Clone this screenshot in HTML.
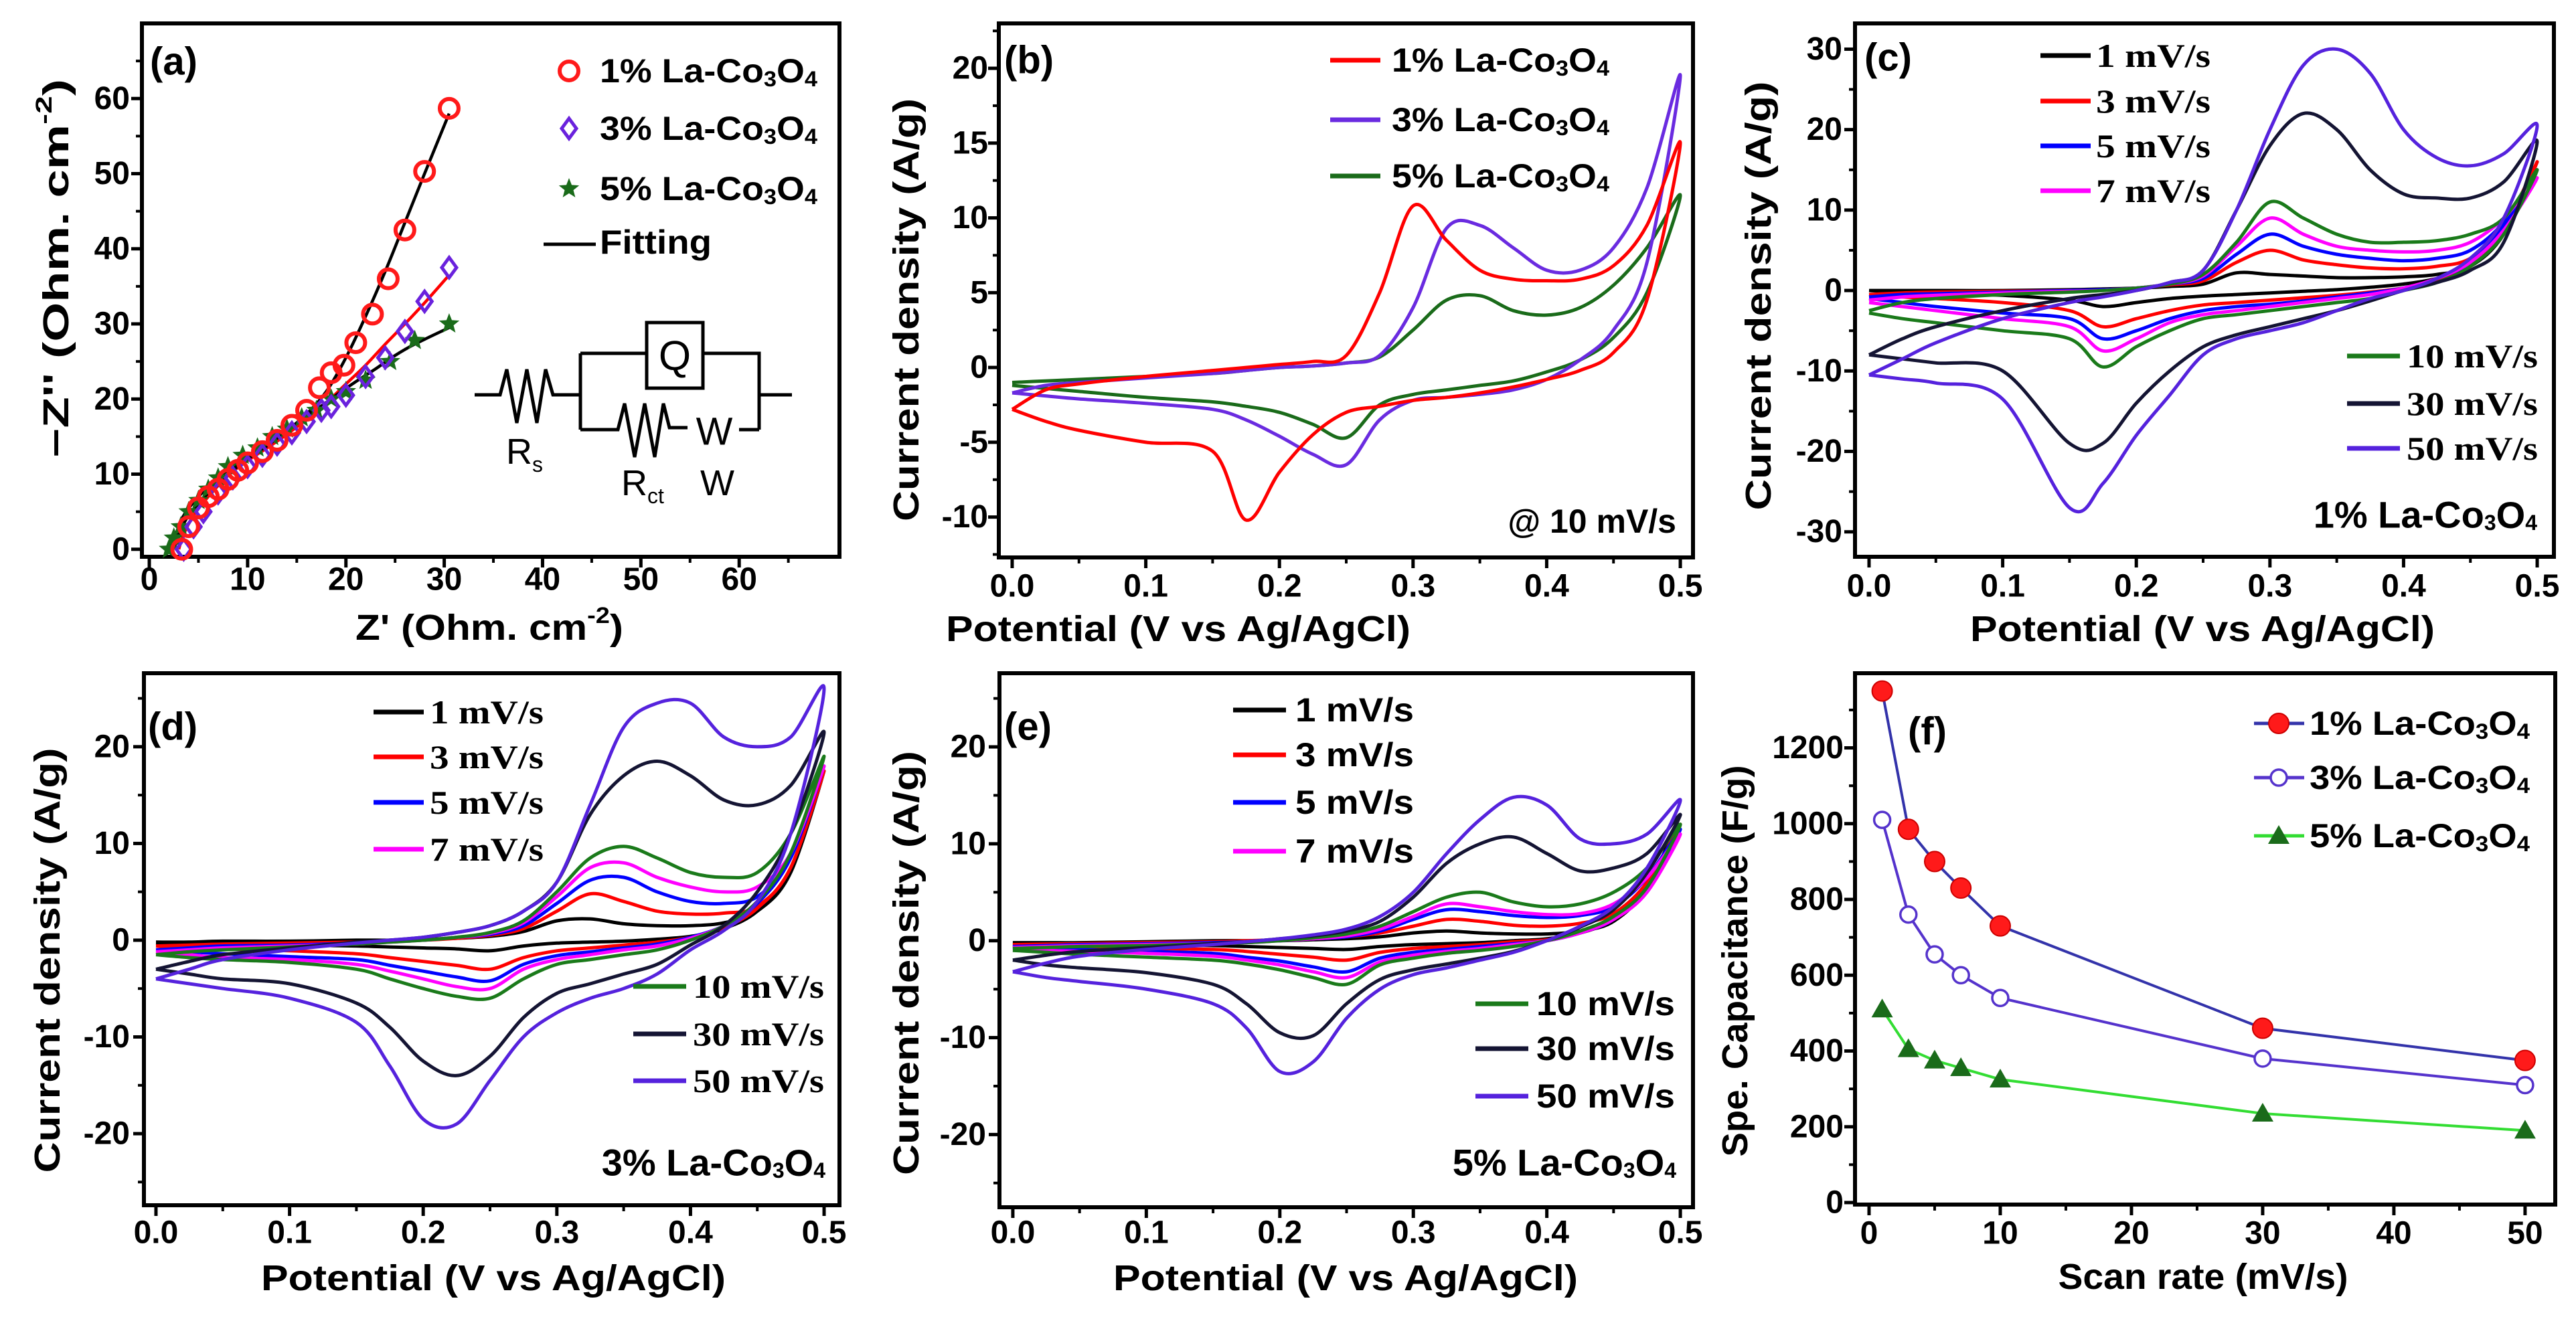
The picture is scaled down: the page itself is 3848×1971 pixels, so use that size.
<!DOCTYPE html>
<html><head><meta charset="utf-8"><style>
html,body{margin:0;padding:0;background:#fff;}
svg{display:block;font-family:"Liberation Sans",Arial,sans-serif;font-weight:bold;}
</style></head><body>
<svg id="fig" width="3848" height="1971" viewBox="0 0 3848 1971" xmlns="http://www.w3.org/2000/svg"></svg>
<script>
// ---------- DATA ----------
// Panel (a) Nyquist
const a1X=[3.3,4,5,6,7,8,9,10,11.5,13,14.5,16,17.3,18.5,19.8,21,22.7,24.3,26,28,30.5];
const a1Y=[0,3,5.5,7,8,9.3,10.5,11.5,13,14.5,16.5,18.5,21.5,23.5,24.5,27.5,31.3,36,42.5,50.3,58.7];
const a3X=[3.5,4.5,5.5,7,8.5,10,11.5,13,14.5,16,17.5,18.5,20,22,24,26,28,30.5];
const a3Y=[0,3,5,7.5,9.5,11,12.5,14,15.5,17,18.5,19,20.5,23,25.5,29,33,37.5];
const a5X=[2,2.5,3.2,4,5,6,7,8,9.5,11,12.5,14,15.5,17,18.5,20,22,24.5,27,30.5];
const a5Y=[0,1.5,3,5,6.5,8,9.5,11,12.5,13.5,15,16,17.5,18.5,20,21,22.5,25,27.8,30];
const fit1X=[2.5,3,4,6,8,10,12,14,16,18,20,22,24,26,28,30.5];
const fit1Y=[0,2,4.5,7.5,10,12,13.8,15.8,18,21,25.5,31,37,43.5,50,58];
const fit3X=[3,3.5,4.5,6,8,10,12,14,16,18,20,22,24,26,28,30.5];
const fit3Y=[0,2,4.5,7,9.8,11.8,13.5,15.3,17.3,19.5,22,24.5,27.3,30,32.8,36.5];
const fit5X=[2.2,2.7,3.5,5,7,9,11,13,15,17,19,21,23,25,27,30.5];
const fit5Y=[0,2,4.5,7,9.5,11.5,13.3,15,16.8,18.6,20.5,22.3,24,25.8,27.3,29.5];
const aXTicks=[0,10,20,30,40,50,60];
const aYTicks=[0,10,20,30,40,50,60];

// CV potential grid (V)
const potentialGrid=[0,0.025,0.05,0.1,0.15,0.175,0.2,0.225,0.25,0.275,0.3,0.325,0.35,0.375,0.4,0.425,0.45,0.475,0.5];
const cvXTicks=[0.0,0.1,0.2,0.3,0.4,0.5];

// Panel (b) @10 mV/s
const b1Up=[-2.8,-1.5,-1.1,-0.6,-0.2,0,0.2,0.4,0.8,5,10.8,8.5,6.5,5.9,5.8,5.9,6.8,9.5,15];
const b1Dn=[-2.8,-3.6,-4.2,-5,-5.6,-10.2,-7,-4.5,-3,-2.6,-2.2,-2,-1.7,-1.3,-0.8,-0.2,1,4.5,15];
const b3Up=[-1.7,-1.2,-1.0,-0.7,-0.4,-0.2,0,0.1,0.3,0.8,4,9.3,9.5,8,6.5,6.5,8,12,19.5];
const b3Dn=[-1.7,-1.9,-2.1,-2.4,-2.8,-3.5,-4.6,-5.8,-6.5,-3.5,-2.2,-2,-1.8,-1.5,-0.8,0.5,2.5,7,19.5];
const b5Up=[-1.0,-0.9,-0.8,-0.6,-0.4,-0.2,0,0.1,0.3,0.7,2.5,4.5,4.8,3.8,3.5,4,5.5,8,11.5];
const b5Dn=[-1.2,-1.4,-1.6,-2.0,-2.3,-2.6,-3,-3.8,-4.7,-2.5,-1.8,-1.5,-1.2,-0.9,-0.3,0.5,2,5,11.5];
const bYTicks=[-10,-5,0,5,10,15,20];

// Panel (c) 1% La-Co3O4
const c1Up=[0,0,0,0,0.1,0.2,0.3,0.5,0.8,2.2,2,1.8,1.6,1.6,1.7,2,3,7,16];
const c1Dn=[0,-0.2,-0.3,-0.6,-1.2,-2,-1.5,-1,-0.7,-0.5,-0.3,-0.1,0.1,0.4,0.8,1.5,3,7,16];
const c3Up=[-0.5,-0.3,-0.2,-0.1,0,0.1,0.3,0.7,1.2,3.5,5,3.8,3.2,2.8,2.7,3,4,8,16];
const c3Dn=[-0.5,-0.8,-1,-1.5,-2.5,-4.5,-3.5,-2.5,-1.8,-1.5,-1.2,-0.9,-0.6,-0.2,0.3,1.2,3,7.5,16];
const c5Up=[-0.8,-0.5,-0.4,-0.2,0,0.1,0.3,0.8,1.5,4.5,7,5.5,4.5,4,3.7,4,5,8.5,15];
const c5Dn=[-1,-1.5,-2,-2.8,-3.5,-6,-5,-3.5,-2.5,-2,-1.7,-1.3,-0.8,-0.3,0.3,1.5,3.5,8,15];
const c7Up=[-1.2,-0.8,-0.6,-0.3,-0.1,0,0.3,0.8,1.8,5.5,9,7,5.5,5,4.8,5,6,9,14];
const c7Dn=[-1.5,-2,-2.5,-3.5,-4.5,-7.5,-6,-4,-3,-2.5,-2,-1.5,-1,-0.5,0.3,1.5,3.5,7.5,14];
const c10Up=[-2.5,-1.5,-1,-0.5,-0.2,0,0.3,0.8,2,6,11,9,7,6,6,6.2,7,9,15];
const c10Dn=[-2.8,-3.5,-4,-5,-6,-9.5,-7,-5,-3.5,-3,-2.5,-2,-1.5,-1,0,1,3,7,15];
const c30Up=[-8,-6,-4.5,-2.5,-1,-0.5,0,1,2.5,10,18,22,20,15,12,11.5,11.5,13.5,18.5];
const c30Dn=[-8,-8.5,-9,-10,-19,-19,-14,-10,-7,-5.5,-4.5,-3.5,-2.5,-1.3,0,1,2.5,6,18.5];
const c50Up=[-10.5,-8.5,-6.5,-3.5,-1.5,-0.8,0,1,2.5,10,20,28,30,27,20,16.5,15.5,17,20.5];
const c50Dn=[-10.5,-11,-11.5,-13.5,-27,-24,-18,-13,-8,-6,-5,-4,-2.5,-1,0,1.5,4,9,20.5];
const cYTicks=[-30,-20,-10,0,10,20,30];

// Panel (d) 3% La-Co3O4
const d1Up=[-0.2,-0.2,-0.1,-0.1,0,0,0.1,0.2,0.4,0.9,2,2.2,1.7,1.5,1.5,1.8,3,7,17.5];
const d1Dn=[-0.3,-0.4,-0.4,-0.5,-0.6,-0.7,-0.8,-0.9,-1.1,-0.6,-0.3,-0.2,-0.1,0.1,0.4,1.2,3,7,17.5];
const d3Up=[-0.6,-0.5,-0.4,-0.3,-0.2,-0.1,0,0.2,0.5,1.2,3,4.8,4,3,2.7,2.8,3.5,7.5,17.5];
const d3Dn=[-0.6,-0.8,-0.9,-1.1,-1.4,-1.8,-2.2,-2.6,-3,-1.8,-1.1,-0.8,-0.5,-0.2,0.3,1.3,3.3,7.5,17.5];
const d5Up=[-1,-0.8,-0.6,-0.5,-0.3,-0.1,0,0.3,0.6,1.5,3.8,6.2,6.5,5,4,3.8,4.5,8.5,18];
const d5Dn=[-1,-1.2,-1.4,-1.7,-2,-2.6,-3.2,-3.8,-4.2,-2.5,-1.6,-1.2,-0.8,-0.4,0.3,1.5,3.8,8.5,18];
const d7Up=[-1.2,-1,-0.8,-0.6,-0.4,-0.2,0,0.3,0.7,1.8,4.5,7.5,8,6.5,5.5,5,5.5,9,18];
const d7Dn=[-1.2,-1.5,-1.8,-2,-2.5,-3.2,-4,-4.8,-5,-3,-2,-1.5,-1,-0.6,0.2,1.5,4,9,18];
const d10Up=[-1.5,-1.2,-1,-0.7,-0.4,-0.2,0,0.3,0.8,2,5,8.5,9.7,8.5,7,6.5,7,11,19];
const d10Dn=[-1.5,-1.8,-2,-2.3,-3,-4,-5,-5.8,-6,-4,-2.5,-2,-1.5,-1,0,1.5,4,9,19];
const d30Up=[-3,-2.2,-1.5,-0.8,-0.2,0,0.3,0.8,1.5,3,6,13,17,18.5,17,14.5,14,16,21.5];
const d30Dn=[-3,-3.5,-4,-4.5,-6.5,-9,-12.5,-14,-12,-8,-5.5,-4.5,-3.5,-2.5,-0.5,1.5,5,11,21.5];
const d50Up=[-4,-3,-2,-1,-0.3,0,0.3,0.8,1.5,3,6,14,22,24.5,24.5,21,20,21,26];
const d50Dn=[-4,-4.5,-5,-6,-8.5,-13,-18.5,-19,-14.5,-10,-7.5,-6,-5,-3.5,-1,1,4,11,26];
const dYTicks=[-20,-10,0,10,20];

// Panel (e) 5% La-Co3O4
const e1Up=[-0.2,-0.2,-0.2,-0.1,0,0,0,0.1,0.2,0.4,0.8,1,0.8,0.7,0.7,1,2,5.5,13];
const e1Dn=[-0.3,-0.3,-0.3,-0.4,-0.5,-0.6,-0.7,-0.8,-0.9,-0.6,-0.4,-0.3,-0.2,0,0.2,0.8,2.2,5.5,13];
const e3Up=[-0.4,-0.35,-0.3,-0.2,-0.1,0,0.1,0.2,0.4,0.8,1.5,2.2,2,1.6,1.5,1.8,2.8,6,12];
const e3Dn=[-0.5,-0.6,-0.7,-0.8,-0.9,-1.1,-1.4,-1.7,-2,-1.2,-0.8,-0.6,-0.4,-0.1,0.1,0.8,2.2,5.5,12];
const e5Up=[-0.6,-0.5,-0.4,-0.3,-0.2,-0.1,0,0.2,0.4,1,2.2,3.2,3,2.6,2.4,2.6,3.5,6.5,11.5];
const e5Dn=[-0.7,-0.8,-0.9,-1.1,-1.3,-1.7,-2.1,-2.7,-3.2,-1.8,-1.2,-0.9,-0.6,-0.3,0,0.8,2.2,5.5,11.5];
const e7Up=[-0.7,-0.6,-0.5,-0.4,-0.3,-0.2,0,0.2,0.5,1.2,2.5,3.8,3.5,3,2.7,2.8,3.8,6.5,11];
const e7Dn=[-0.8,-1,-1.1,-1.3,-1.6,-2,-2.5,-3.2,-3.8,-2.2,-1.5,-1.1,-0.8,-0.4,0,0.8,2.2,5,11];
const e10Up=[-0.8,-0.7,-0.6,-0.5,-0.3,-0.2,0,0.3,0.7,1.5,3,4.5,5,4,3.5,3.8,5,7.5,12];
const e10Dn=[-1,-1.2,-1.4,-1.7,-2,-2.4,-3,-3.8,-4.5,-2.5,-1.8,-1.3,-1,-0.6,0,1,2.5,5.5,12];
const e30Up=[-2,-1.5,-1.1,-0.7,-0.3,-0.1,0.2,0.5,1,2,4.5,8,10,10.7,9,7.2,7.5,9,13];
const e30Dn=[-2,-2.5,-2.8,-3.3,-4.5,-6.5,-9.5,-9.8,-6.5,-4,-3,-2.4,-1.8,-1.1,0,1.4,3.2,7,13];
const e50Up=[-3.2,-2.3,-1.6,-0.9,-0.4,-0.1,0.2,0.6,1.2,2.5,5,9,12.5,14.8,14,10.5,10,11,14.5];
const e50Dn=[-3.2,-3.8,-4.2,-5,-6.5,-9,-13.5,-12.5,-8,-5,-3.5,-2.8,-2,-1.2,0,1.5,3.5,7.5,14.5];
const eYTicks=[-20,-10,0,10,20];

// Panel (f) specific capacitance
const scanRates=[1,3,5,7,10,30,50];
const cap1=[1350,985,900,830,730,460,375];
const cap3=[1010,760,655,600,540,380,310];
const cap5=[510,405,375,355,325,235,190];
const fXTicks=[0,10,20,30,40,50];
const fYTicks=[0,200,400,600,800,1000,1200];

const rateLabels=['1 mV/s','3 mV/s','5 mV/s','7 mV/s','10 mV/s','30 mV/s','50 mV/s'];

// ---------- DRAWING ----------
const NS='http://www.w3.org/2000/svg';
const svg=document.getElementById('fig');
function mk(tag,parent,attrs,name){
  const el=document.createElementNS(NS,tag);
  for(const k in attrs) el.setAttribute(k,attrs[k]);
  
  
  (parent||svg).appendChild(el);
  return el;
}
function splinePath(pts){
  let d='M'+pts[0][0].toFixed(1)+','+pts[0][1].toFixed(1);
  for(let i=0;i<pts.length-1;i++){
    const p0=pts[Math.max(0,i-1)],p1=pts[i],p2=pts[i+1],p3=pts[Math.min(pts.length-1,i+2)];
    const c1x=p1[0]+(p2[0]-p0[0])/6,c1y=p1[1]+(p2[1]-p0[1])/6;
    const c2x=p2[0]-(p3[0]-p1[0])/6,c2y=p2[1]-(p3[1]-p1[1])/6;
    d+=' C'+c1x.toFixed(1)+','+c1y.toFixed(1)+' '+c2x.toFixed(1)+','+c2y.toFixed(1)+' '+p2[0].toFixed(1)+','+p2[1].toFixed(1);
  }
  return d;
}
function makeAxes(g,o){
  const sx=v=>o.L+(v-o.x0)/(o.x1-o.x0)*(o.R-o.L);
  const sy=v=>o.B-(v-o.y0)/(o.y1-o.y0)*(o.B-o.T);
  const ax=mk('g',g,{},'axes');
  for(let v=o.xMinStart;v<=o.xMinEnd+1e-9;v+=o.xMinor){
    mk('line',ax,{x1:sx(v),x2:sx(v),y1:o.B,y2:o.B+9,stroke:'#000','stroke-width':4},'x-minor-tick');
  }
  for(let v=o.yMinStart;v<=o.yMinEnd+1e-9;v+=o.yMinor){
    mk('line',ax,{x1:o.L,x2:o.L-9,y1:sy(v),y2:sy(v),stroke:'#000','stroke-width':4},'y-minor-tick');
  }
  o.xt.forEach(v=>{
    mk('line',ax,{x1:sx(v),x2:sx(v),y1:o.B,y2:o.B+16,stroke:'#000','stroke-width':5},'x-major-tick');
    const t=mk('text',ax,{x:sx(v),y:o.xLabY,'text-anchor':'middle','dominant-baseline':'central','font-size':48},'x-tick-label');
    t.textContent=o.xFmt?o.xFmt(v):String(v);
  });
  o.yt.forEach(v=>{
    mk('line',ax,{x1:o.L,x2:o.L-16,y1:sy(v),y2:sy(v),stroke:'#000','stroke-width':5},'y-major-tick');
    const t=mk('text',ax,{x:o.yLabX,y:sy(v),'text-anchor':'end','dominant-baseline':'central','font-size':48},'y-tick-label');
    t.textContent=String(v);
  });
  mk('rect',ax,{x:o.L,y:o.T,width:o.R-o.L,height:o.B-o.T,fill:'none',stroke:'#000','stroke-width':6},'plot-frame');
  return {sx,sy};
}
function titleText(g,x,y,len,rot,html,name,size){
  const t=mk('text',g,{x:x,y:y,'text-anchor':'middle','dominant-baseline':'central','font-size':size||54,textLength:len,lengthAdjust:'spacingAndGlyphs',transform:rot?('rotate(-90 '+x+' '+y+')'):''},name);
  t.innerHTML=html;
  return t;
}
const CO='La-Co<tspan dy="12" font-size="32">3</tspan><tspan dy="-12">O</tspan><tspan dy="12" font-size="32">4</tspan>';
function legText(g,x,y,html,len,name,size,family){
  const t=mk('text',g,{x:x,y:y,'dominant-baseline':'central','font-size':size||50,textLength:len,lengthAdjust:'spacingAndGlyphs'},name);
  if(family) t.setAttribute('font-family',family);
  t.innerHTML=html;
  return t;
}
function starPath(cx,cy,R){let d='';for(let k=0;k<10;k++){const r=k%2?R*0.43:R,an=-Math.PI/2+k*Math.PI/5;d+=(k?'L':'M')+(cx+r*Math.cos(an)).toFixed(1)+','+(cy+r*Math.sin(an)).toFixed(1);}return d+'Z';}

// ===== Panel (a) =====
(function(){
  const g=mk('g',svg,{},'panel-a');
  const o={L:212,R:1254,T:35,B:832,x0:-0.75,x1:70.2,y0:-1,y1:70,xt:aXTicks,yt:aYTicks,xMinor:5,xMinStart:5,xMinEnd:65,yMinor:5,yMinStart:5,yMinEnd:65,xLabY:866,yLabX:194};
  const {sx,sy}=makeAxes(g,o);
  titleText(g,84,401,566,true,'−Z\'\' (Ohm. cm<tspan dy="-18" font-size="34">-2</tspan><tspan dy="18">)</tspan>','y-axis-title');
  titleText(g,731,938,400,false,'Z\' (Ohm. cm<tspan dy="-18" font-size="34">-2</tspan><tspan dy="18">)</tspan>','x-axis-title');
  mk('text',g,{x:224,y:92,'dominant-baseline':'central','font-size':58},'panel-label').textContent='(a)';
  [[fit3X,fit3Y,'#ff0000'],[fit5X,fit5Y,'#000'],[fit1X,fit1Y,'#000']].forEach(f=>{
    const pts=f[0].map((x,i)=>[sx(x),sy(f[1][i])]);
    mk('path',g,{d:splinePath(pts),fill:'none',stroke:f[2],'stroke-width':4.5},'fitting-line');
  });
  a5X.forEach((x,i)=>{
    mk('path',g,{d:starPath(sx(x),sy(a5Y[i]),16),fill:'#1a6b1a'},'marker-5pct');
  });
  a3X.forEach((x,i)=>{
    const cx=sx(x),cy=sy(a3Y[i]);
    mk('path',g,{d:`M${cx},${cy-15}L${cx+11},${cy}L${cx},${cy+15}L${cx-11},${cy}Z`,fill:'none',stroke:'#6a22dd','stroke-width':5},'marker-3pct');
  });
  a1X.forEach((x,i)=>{
    mk('circle',g,{cx:sx(x),cy:sy(a1Y[i]),r:14,fill:'none',stroke:'#ff1a1a','stroke-width':6},'marker-1pct');
  });
  const lg=mk('g',g,{},'legend');
  mk('circle',lg,{cx:850,cy:106,r:14,fill:'none',stroke:'#ff1a1a','stroke-width':6},'legend-marker-1pct');
  mk('path',lg,{d:'M850,177L861,192L850,207L839,192Z',fill:'none',stroke:'#6a22dd','stroke-width':5},'legend-marker-3pct');
  mk('path',lg,{d:starPath(850,282,16),fill:'#1a6b1a'},'legend-marker-5pct');
  legText(lg,896,106,'1% '+CO,325,'legend-entry');
  legText(lg,896,192,'3% '+CO,325,'legend-entry');
  legText(lg,896,282,'5% '+CO,325,'legend-entry');
  mk('line',lg,{x1:812,x2:890,y1:365,y2:365,stroke:'#000','stroke-width':5},'legend-line-fitting');
  legText(lg,896,362,'Fitting',167,'legend-entry');
  const cg=mk('g',g,{fill:'none',stroke:'#000','stroke-width':5},'equivalent-circuit');
  mk('path',cg,{d:'M709,590L747,590L757,552L772,632L787,552L802,632L815,552L826,590L867,590'},'resistor-rs');
  mk('path',cg,{d:'M867,528L867,642M867,528L966,528M1050,528L1134,528L1134,642M1134,590L1183,590'},'circuit-wires');
  mk('rect',cg,{x:966,y:482,width:84,height:98},'cpe-box');
  mk('path',cg,{d:'M867,642L923,642L933,603L948,683L963,603L978,683L991,603L1000,639L1027,639M1104,642L1134,642'},'resistor-rct');
  const tg=mk('g',g,{'font-size':54,'font-weight':'normal'},'circuit-labels');
  mk('text',tg,{x:1008,y:532,'text-anchor':'middle','dominant-baseline':'central','font-size':62},'cpe-label').textContent='Q';
  mk('text',tg,{x:1067,y:645,'text-anchor':'middle','dominant-baseline':'central','font-size':58},'warburg-symbol').textContent='W';
  mk('text',tg,{x:756,y:693},'rs-label').innerHTML='R<tspan dy="12" font-size="32">s</tspan>';
  mk('text',tg,{x:928,y:740},'rct-label').innerHTML='R<tspan dy="12" font-size="32">ct</tspan>';
  mk('text',tg,{x:1046,y:740},'w-label').textContent='W';
})();

// ===== CV panels =====
function cvPanel(name,o,curves,yTitleX,yTitleY,yLen,xTitleY,xTitleX){
  const g=mk('g',svg,{},name);
  o.x0=o.x0??-0.01;o.xt=cvXTicks;o.xMinor=0.05;o.xMinStart=0.05;o.xMinEnd=0.45;o.xFmt=v=>v.toFixed(1);
  const {sx,sy}=makeAxes(g,o);
  titleText(g,yTitleX,yTitleY,yLen,true,'Current density (A/g)','y-axis-title');
  titleText(g,xTitleX,xTitleY,694,false,'Potential (V vs Ag/AgCl)','x-axis-title');
  curves.forEach(c=>{
    const pts=potentialGrid.map((e,i)=>[sx(e),sy(c[0][i])]).concat(potentialGrid.slice().reverse().slice(1).map((e,i)=>[sx(e),sy(c[1][potentialGrid.length-2-i])]));
    mk('path',g,{d:splinePath(pts),fill:'none',stroke:c[2],'stroke-width':5,'stroke-linejoin':'round'},'cv-curve');
  });
  return g;
}
const rateColors=['#000000','#ff0000','#0000ff','#ff00ff','#1a7a1a','#141433','#5522dd'];

// (b)
(function(){
  const g=cvPanel('panel-b',{L:1492,R:2529,T:35,B:833,x0:-0.01,x1:0.5095,y0:-12.7,y1:23.0,yt:bYTicks,yMinor:2.5,yMinStart:-12.5,yMinEnd:22.5,xLabY:876,yLabX:1476},
    [[b5Up,b5Dn,'#1a6b1a'],[b3Up,b3Dn,'#6a2be0'],[b1Up,b1Dn,'#ff0000']],1354,463,632,940,1760);
  mk('text',g,{x:1500,y:90,'dominant-baseline':'central','font-size':58},'panel-label').textContent='(b)';
  const lg=mk('g',g,{},'legend');
  [['#ff0000','1% ',90],['#6a2be0','3% ',179],['#1a6b1a','5% ',263]].forEach(r=>{
    mk('line',lg,{x1:1987,x2:2062,y1:r[2],y2:r[2],stroke:r[0],'stroke-width':7},'legend-line');
    legText(lg,2079,r[2],r[1]+CO,325,'legend-entry');
  });
  mk('text',g,{x:2504,y:779,'text-anchor':'end','dominant-baseline':'central','font-size':50},'scan-rate-note').textContent='@ 10 mV/s';
})();

function rateLegend(g,lx1,lx2,tx,rows,rowsR,rx1,rx2,rtx,serif,len1,len2){
  const lg=mk('g',g,{},'legend');
  const fam=serif?'"Liberation Serif",serif':null;
  rows.forEach((y,i)=>{
    mk('line',lg,{x1:lx1,x2:lx2,y1:y,y2:y,stroke:rateColors[i],'stroke-width':7},'legend-line');
    legText(lg,tx,y,rateLabels[i],len1,'legend-entry',50,fam);
  });
  rowsR.forEach((y,i)=>{
    mk('line',lg,{x1:rx1,x2:rx2,y1:y,y2:y,stroke:rateColors[i+4],'stroke-width':7},'legend-line');
    legText(lg,rtx,y,rateLabels[i+4],len2,'legend-entry',50,fam);
  });
}

// (c)
(function(){
  const g=cvPanel('panel-c',{L:2771,R:3815,T:35,B:832,x0:-0.0105,x1:0.5125,y0:-33.1,y1:33.2,yt:cYTicks,yMinor:5,yMinStart:-30,yMinEnd:30,xLabY:876,yLabX:2752},
    [[c1Up,c1Dn,rateColors[0]],[c3Up,c3Dn,rateColors[1]],[c5Up,c5Dn,rateColors[2]],[c7Up,c7Dn,rateColors[3]],[c10Up,c10Dn,rateColors[4]],[c30Up,c30Dn,rateColors[5]],[c50Up,c50Dn,rateColors[6]]],2627,442,641,940,3290);
  mk('text',g,{x:2785,y:86,'dominant-baseline':'central','font-size':58},'panel-label').textContent='(c)';
  rateLegend(g,3048,3123,3131,[83,151,218,285],[532,603,670],3506,3585,3595,true,171,196);
  const t=mk('text',g,{x:3790,y:769,'text-anchor':'end','dominant-baseline':'central','font-size':56},'sample-label');
  t.innerHTML='1% '+CO;
})();

// (d)
(function(){
  const g=cvPanel('panel-d',{L:215,R:1254,T:1006,B:1801,x0:-0.009,x1:0.5115,y0:-27.4,y1:27.6,yt:dYTicks,yMinor:5,yMinStart:-25,yMinEnd:25,xLabY:1842,yLabX:194},
    [[d1Up,d1Dn,rateColors[0]],[d3Up,d3Dn,rateColors[1]],[d5Up,d5Dn,rateColors[2]],[d7Up,d7Dn,rateColors[3]],[d10Up,d10Dn,rateColors[4]],[d30Up,d30Dn,rateColors[5]],[d50Up,d50Dn,rateColors[6]]],71,1435,635,1910,737);
  mk('text',g,{x:221,y:1086,'dominant-baseline':'central','font-size':58},'panel-label').textContent='(d)';
  rateLegend(g,558,633,642,[1064,1131,1199,1269],[1474,1545,1615],946,1025,1035,true,170,196);
  const t=mk('text',g,{x:1233,y:1737,'text-anchor':'end','dominant-baseline':'central','font-size':56},'sample-label');
  t.innerHTML='3% '+CO;
})();

// (e)
(function(){
  const g=cvPanel('panel-e',{L:1493,R:2529,T:1006,B:1804,x0:-0.01,x1:0.5095,y0:-27.5,y1:27.6,yt:eYTicks,yMinor:5,yMinStart:-25,yMinEnd:25,xLabY:1842,yLabX:1473},
    [[e1Up,e1Dn,rateColors[0]],[e3Up,e3Dn,rateColors[1]],[e5Up,e5Dn,rateColors[2]],[e7Up,e7Dn,rateColors[3]],[e10Up,e10Dn,rateColors[4]],[e30Up,e30Dn,rateColors[5]],[e50Up,e50Dn,rateColors[6]]],1354,1439,634,1910,2010);
  mk('text',g,{x:1500,y:1086,'dominant-baseline':'central','font-size':58},'panel-label').textContent='(e)';
  rateLegend(g,1842,1921,1935,[1061,1128,1199,1272],[1500,1567,1638],2204,2283,2295,false,177,207);
  const t=mk('text',g,{x:2504,y:1737,'text-anchor':'end','dominant-baseline':'central','font-size':56},'sample-label');
  t.innerHTML='5% '+CO;
})();

// (f)
(function(){
  const g=mk('g',svg,{},'panel-f');
  const o={L:2771,R:3817,T:1006,B:1800,x0:-1.07,x1:52.3,y0:-5.3,y1:1397,xt:fXTicks,yt:fYTicks,xMinor:5,xMinStart:5,xMinEnd:45,yMinor:100,yMinStart:100,yMinEnd:1300,xLabY:1843,yLabX:2754};
  const {sx,sy}=makeAxes(g,o);
  titleText(g,2592,1436,585,true,'Spe. Capacitance (F/g)','y-axis-title');
  titleText(g,3291,1908,433,false,'Scan rate (mV/s)','x-axis-title');
  mk('text',g,{x:2850,y:1093,'dominant-baseline':'central','font-size':58},'panel-label').textContent='(f)';
  function drawMarker(g,kind,x,y){
    if(kind==='red'){mk('circle',g,{cx:x,cy:y,r:15,fill:'#ff1a1a',stroke:'#cc0000','stroke-width':2},'marker-1pct');}
    else if(kind==='open'){mk('circle',g,{cx:x,cy:y,r:12,fill:'#fff',stroke:'#5533cc','stroke-width':3.5},'marker-3pct');}
    else {mk('path',g,{d:`M${x},${y-16}L${x+16},${y+12}L${x-16},${y+12}Z`,fill:'#1a6b1a'},'marker-5pct');}
  }
  const series=[[cap5,'#33dd33','tri'],[cap3,'#5533cc','open'],[cap1,'#3333aa','red']];
  series.forEach(s=>{
    const pts=scanRates.map((x,i)=>[sx(x),sy(s[0][i])]);
    mk('polyline',g,{points:pts.map(p=>p.join(',')).join(' '),fill:'none',stroke:s[1],'stroke-width':4},'capacitance-line');
    pts.forEach(p=>drawMarker(g,s[2],p[0],p[1]));
  });
  const lg=mk('g',g,{},'legend');
  [[1081,'#3333aa','red','1% '],[1162,'#5533cc','open','3% '],[1249,'#33dd33','tri','5% ']].forEach(r=>{
    mk('line',lg,{x1:3367,x2:3442,y1:r[0],y2:r[0],stroke:r[1],'stroke-width':5},'legend-line');
    drawMarker(lg,r[2],3404,r[0]);
    legText(lg,3450,r[0],r[3]+CO,329,'legend-entry');
  });
})();
</script>
</body></html>
